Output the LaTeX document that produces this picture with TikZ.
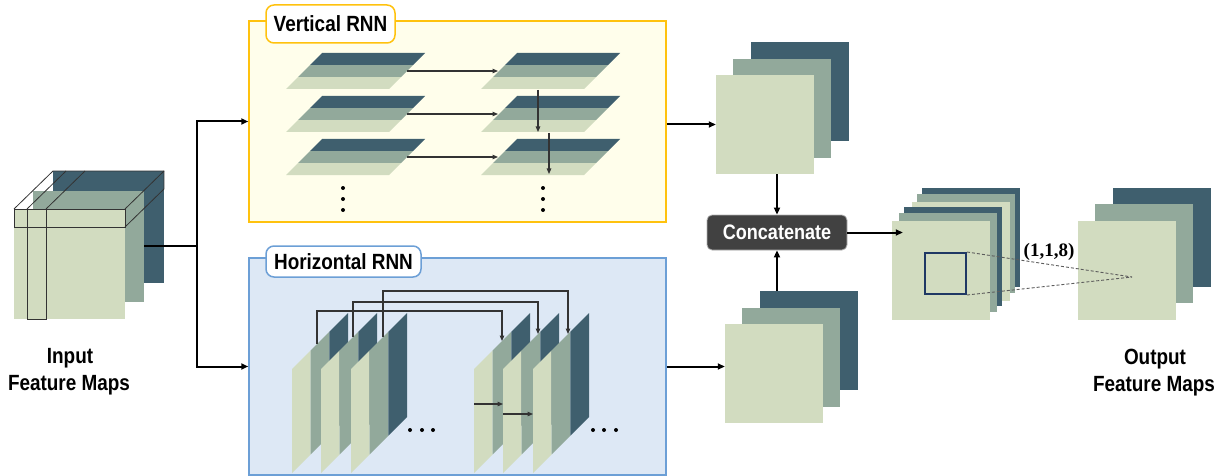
\documentclass[tikz,border=0pt]{standalone}
\usepackage{fontspec}
\setmainfont{Liberation Sans}
\newfontfamily\labfont{Liberation Sans}[FakeStretch=0.86]
\newfontfamily\numfont{Liberation Serif}
\usetikzlibrary{arrows.meta,calc}

\definecolor{fmdark}{HTML}{3F5F6E}
\definecolor{fmmid}{HTML}{92A99B}
\definecolor{fmlight}{HTML}{D2DCC0}
\definecolor{vfill}{HTML}{FFFEEB}
\definecolor{vedge}{HTML}{FFC20E}
\definecolor{hfill}{HTML}{DDE8F5}
\definecolor{hedge}{HTML}{6C9FD6}
\definecolor{catfill}{HTML}{414141}
\definecolor{navy}{HTML}{1F3864}
\definecolor{wirec}{HTML}{333333}

\tikzset{
  % horizontal slab made of three stacked bands (vertical RNN)
  hslab/.pic={
    \fill[fmlight] (0,0) -- (103,0) -- (115,-12) -- (12,-12) -- cycle;
    \fill[fmmid] (12,-12) -- (115,-12) -- (127,-24) -- (24,-24) -- cycle;
    \fill[fmdark] (24,-24) -- (127,-24) -- (139,-36) -- (36,-36) -- cycle;
  },
  % upright slab made of three side-by-side bands (horizontal RNN)
  vslab/.pic={
    \fill[fmlight] (0,0) -- (18.67,-18.67) -- (18.67,85.33) -- (0,104) -- cycle;
    \fill[fmmid] (18.67,-18.67) -- (37.33,-37.33) -- (37.33,66.67) -- (18.67,85.33) -- cycle;
    \fill[fmdark] (37.33,-37.33) -- (56,-56) -- (56,48) -- (37.33,66.67) -- cycle;
  },
  fm/.style={inner sep=0pt, draw=none, minimum width=98pt, minimum height=99pt},
  bigfm/.style={inner sep=0pt, draw=none, minimum width=111pt, minimum height=111pt},
  lab/.style={font=\labfont\bfseries\fontsize{22}{26}\selectfont, inner sep=0pt},
  title/.style={lab, fill=white, rounded corners=8pt, line width=1.5pt},
  mainline/.style={line width=2pt, black},
  mainarrow/.style={line width=2pt, black, -{Triangle[length=7pt,width=6pt]}},
  thinarrow/.style={line width=1.1pt, wirec, -{Triangle[length=5.5pt,width=4.5pt]}},
  wire/.style={line width=0.8pt, wirec},
  dot/.style={circle, fill=black, inner sep=0pt, minimum size=4pt},
}

\begin{document}
\begin{tikzpicture}[x=1pt,y=-1pt]
\useasboundingbox (0,0) rectangle (1229,476);

% ---------- input feature maps ----------
\node[bigfm, fill=fmdark] (indark) at (108.5,227) {};
\node[bigfm, fill=fmmid] (inmid) at (88.5,246) {};
\node[bigfm, fill=fmlight, minimum height=110pt] (inlight) at (69.5,264) {};
\draw[wire] (14,209) rectangle (125,227);
\draw[wire] (27,209) rectangle (46,319);
\draw[wire] (14,209) -- (53,171) -- (164,171) -- (164,189);
\draw[wire] (27,209) -- (66,171);
\draw[wire] (46,209) -- (85,171);
\draw[wire] (125,209) -- (164,171);
\draw[wire] (125,227) -- (164,189);
\node[lab, anchor=base] (inlab1) at (70,363) {Input};
\node[lab, anchor=base] (inlab2) at (69,390) {Feature Maps};

% ---------- vertical RNN ----------
\node[draw=vedge, fill=vfill, line width=1.5pt, inner sep=0pt,
      minimum width=417pt, minimum height=201pt] (vbox) at (457.5,121.5) {};
\node[title, draw=vedge, minimum width=129pt, minimum height=38pt] (vtitle) at (330.5,24) {Vertical RNN};
\foreach \yb in {89,132,175} {
  \pic at (286,\yb) {hslab};
  \pic at (481,\yb) {hslab};
}
\foreach \r/\yb in {1/89,2/132,3/175} {
  \coordinate (vl\r) at (407,{\yb-18});
  \coordinate (vr\r) at (498,{\yb-18});
  \draw[thinarrow] (vl\r) -- (vr\r);
}
\coordinate (vd1a) at (538,90);
\coordinate (vd1b) at (538,132);
\coordinate (vd2a) at (549,133);
\coordinate (vd2b) at (549,174);
\draw[thinarrow] (vd1a) -- (vd1b);
\draw[thinarrow] (vd2a) -- (vd2b);
\foreach \yy in {188,199,210} {
  \node[dot] at (343,\yy) {};
  \node[dot] at (543,\yy) {};
}

% ---------- horizontal RNN ----------
\node[draw=hedge, fill=hfill, line width=1.5pt, inner sep=0pt,
      minimum width=417pt, minimum height=217pt] (hbox) at (457.5,366.5) {};
\node[title, draw=hedge, minimum width=155pt, minimum height=31pt] (htitle) at (343.5,261.5) {Horizontal RNN};
\foreach \x in {292,321,351,474,503,533} {
  \pic at (\x,369) {vslab};
}
\coordinate (ha) at (317,344);
\coordinate (hA) at (502,341);
\coordinate (hb) at (353,337);
\coordinate (hB) at (538,334);
\coordinate (hc) at (383,337);
\coordinate (hC) at (568,334);
\draw[thinarrow] (ha) -- ++(0,-33) -| (hA);
\draw[thinarrow] (hb) -- ++(0,-35) -| (hB);
\draw[thinarrow] (hc) -- ++(0,-46) -| (hC);
\coordinate (hs1) at (474,404);
\coordinate (hs2) at (503,404);
\coordinate (hs3) at (503,414);
\coordinate (hs4) at (533,414);
\draw[thinarrow] (hs1) -- (hs2);
\draw[thinarrow] (hs3) -- (hs4);
\foreach \xx in {410,422,433,593,604,616} {
  \node[dot] at (\xx,430) {};
}

% ---------- RNN outputs ----------
\node[fm, fill=fmdark] (vodark) at (800,91.5) {};
\node[fm, fill=fmmid] (vomid) at (782,108.5) {};
\node[fm, fill=fmlight] (volight) at (765,124.5) {};
\node[fm, fill=fmdark] (hodark) at (809,340.5) {};
\node[fm, fill=fmmid] (homid) at (791,357.5) {};
\node[fm, fill=fmlight] (holight) at (774,373.5) {};

% ---------- concatenation ----------
\node[lab, text=white, fill=catfill, draw=gray!60, line width=0.8pt, rounded corners=5pt,
      font=\labfont\bfseries\fontsize{21}{24}\selectfont,
      minimum width=140pt, minimum height=35pt] (cat) at (777,232.5) {Concatenate};

% ---------- concatenated maps ----------
\node[fm, fill=fmdark] (c1) at (971,237.5) {};
\node[fm, fill=fmmid] (c2) at (966,243.5) {};
\node[fm, fill=fmlight] (c3) at (961,251.5) {};
\node[fm, fill=fmdark] (c4) at (953,256.5) {};
\node[fm, fill=fmmid] (c5) at (948,262.5) {};
\node[fm, fill=fmlight] (c6) at (941,270.5) {};

% ---------- output feature maps ----------
\node[fm, fill=fmdark] (odark) at (1162,237.5) {};
\node[fm, fill=fmmid] (omid) at (1144,253.5) {};
\node[fm, fill=fmlight] (olight) at (1127,270.5) {};
\node[lab, anchor=base] (outlab1) at (1155,364) {Output};
\node[lab, anchor=base] (outlab2) at (1154,391) {Feature Maps};

% 1x1 convolution window
\node[draw=navy, line width=2pt, inner sep=0pt, minimum size=41pt] (win) at (945.5,273.5) {};
\coordinate (focus) at (1132,277);
\draw[wirec!80, line width=0.9pt, dash pattern=on 3pt off 2pt] (win.north east) -- (focus);
\draw[wirec!80, line width=0.9pt, dash pattern=on 3pt off 2pt] (win.south east) -- (focus);
\node[font=\numfont\bfseries\fontsize{19}{22}\selectfont, anchor=base, inner sep=0pt] (kern) at (1049,256) {(1,1,8)};

% ---------- main connectors ----------
\coordinate (split) at (197,246);
\draw[mainline] (inmid.east) -- (split);
\draw[mainarrow] (split) |- (vbox.west);
\draw[mainarrow] (split) |- (hbox.west);
\draw[mainarrow] (vbox.east |- volight.west) -- (volight.west);
\draw[mainarrow] (hbox.east) -- (hbox.east -| holight.west);
\draw[mainarrow] (cat.north |- volight.south) -- (cat.north);
\draw[mainarrow] (cat.south |- hodark.north) -- (cat.south);
\draw[mainarrow] (cat.east) -- ([xshift=11pt]cat.east -| c6.west);
\end{tikzpicture}
\end{document}
